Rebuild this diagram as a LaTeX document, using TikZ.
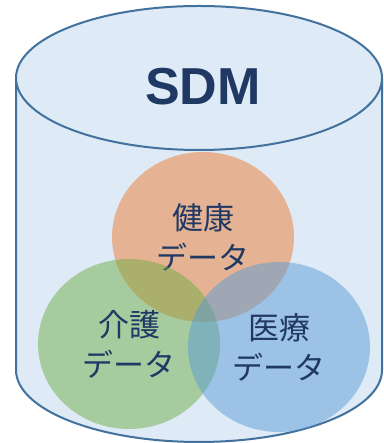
\documentclass[tikz,border=0pt]{standalone}
\usepackage{fontspec}
\setmainfont{Noto Sans}
\newfontfamily\jpfont{Noto Sans CJK JP}
\newfontfamily\sdmfont{Liberation Sans}
\usetikzlibrary{shapes.geometric}
\definecolor{dbfill}{HTML}{DEEBF7}
\definecolor{dbline}{HTML}{41719C}
\definecolor{navy}{HTML}{203864}
\definecolor{kenko}{HTML}{ED7D31}
\definecolor{kaigo}{HTML}{70AD47}
\definecolor{iryo}{HTML}{5B9BD5}

\begin{document}
\begin{tikzpicture}[x=1pt,y=1pt]
    \tikzset{area/.style= {ellipse, fill opacity=0.5, text opacity=1
    , minimum width=182pt, minimum height=170pt
    , text=navy, align=center
    , font=\jpfont\fontsize{31}{40}\selectfont
      }
    }

\useasboundingbox (0,0) rectangle (383,443);

% cylinder
\path[draw=dbline, fill=dbfill, line width=2pt]
  (16,365) -- (16,73) arc[start angle=180, end angle=360, x radius=183, y radius=72] -- (382,365);
\draw[dbline, fill=dbfill, line width=2pt] (199,365) ellipse[x radius=183, y radius=72];
\node [text=navy, font=\sdmfont\bfseries\fontsize{52}{60}\selectfont] (sdm) at (203,356) {SDM};

\node [area, fill=kenko] (kenko) at (203,206) {健康\\データ};
\node [area, fill=kaigo] (kaigo) at (129,99) {介護\\データ};
\node [area, fill=iryo] (iryo) at (279,96) {医療\\データ};
\end{tikzpicture}
\end{document}
